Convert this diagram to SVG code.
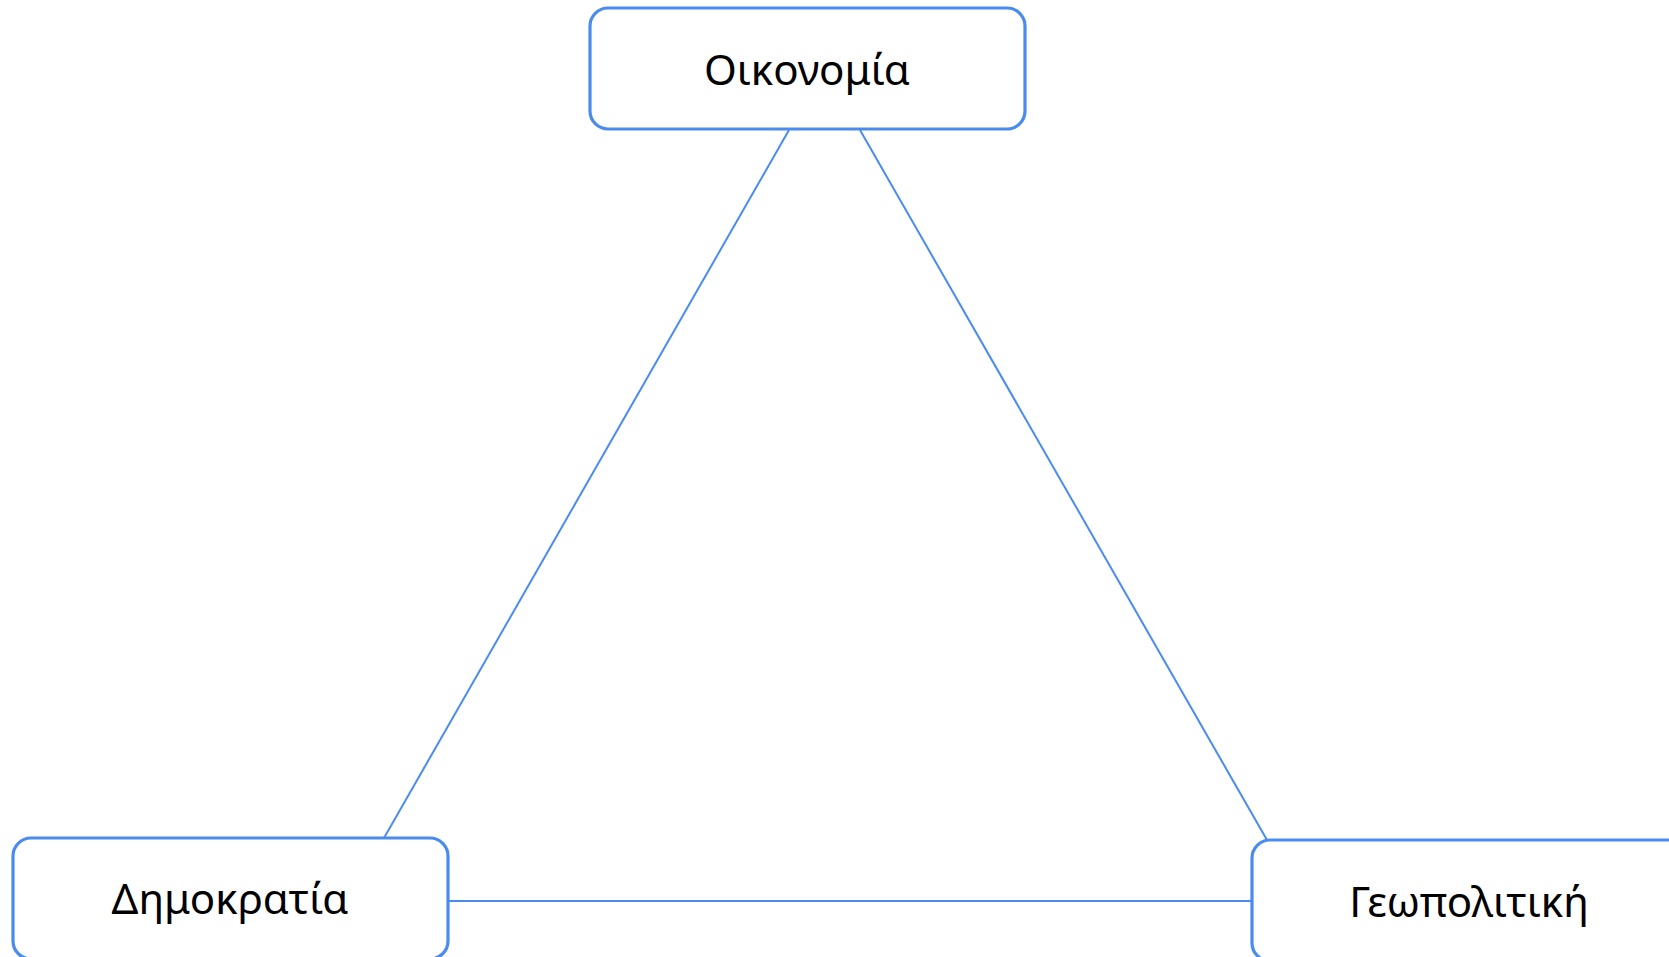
<svg xmlns="http://www.w3.org/2000/svg" width="1669" height="957" viewBox="0 0 1669 957">
<style>
.node{fill:#ffffff;stroke:#4a8ced;stroke-width:3.2}
.lbl{font-family:"Noto Sans","Open Sans","DejaVu Sans",sans-serif;font-size:42px;fill:#000;text-anchor:middle}
.edge{stroke:#4a8ced;stroke-width:2;fill:none}
</style>
<rect width="1669" height="957" fill="#ffffff"/>
<g id="connectors">
<line class="edge" x1="789" y1="130" x2="384" y2="838"/>
<line class="edge" x1="860" y1="130" x2="1267" y2="840"/>
<line class="edge" x1="448" y1="901" x2="1252" y2="901"/>
</g>
<g id="node-oikonomia">
<rect class="node" x="590" y="8" width="435" height="121" rx="18"/>
<text class="lbl" x="807" y="85">Οικονομία</text>
</g>
<g id="node-dimokratia">
<rect class="node" x="13" y="838" width="435" height="121" rx="18"/>
<text class="lbl" x="230" y="914">Δημοκρατία</text>
</g>
<g id="node-geopolitiki">
<rect class="node" x="1252" y="840" width="435" height="121" rx="18"/>
<text class="lbl" x="1469" y="917">Γεωπολιτική</text>
</g>
</svg>
